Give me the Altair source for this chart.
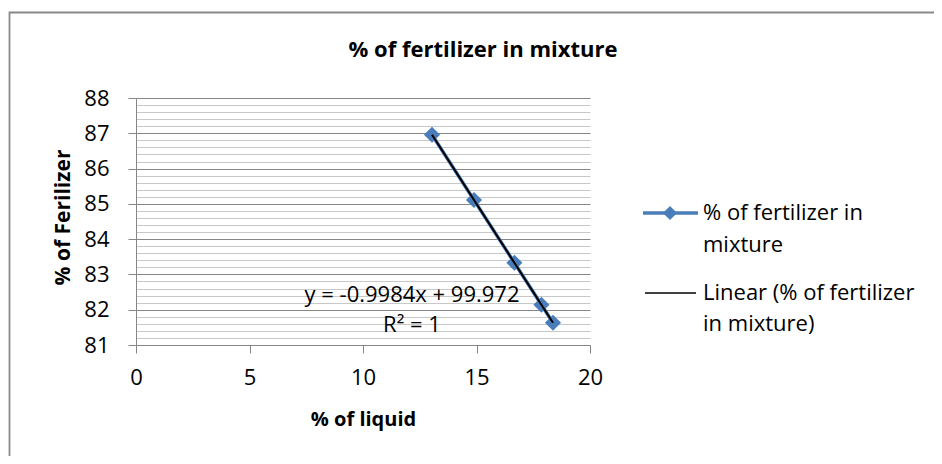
import altair as alt
import pandas as pd

# ---- data ----
liquid_pct = [13.04, 14.89, 16.67, 17.86, 18.37]
fert_pct = [86.96, 85.11, 83.33, 82.14, 81.63]
series_name = "% of fertilizer in mixture"
legend_labels = ["% of fertilizer in\nmixture", "Linear (% of fertilizer\nin mixture)"]
equation_text = "y = -0.9984x + 99.972\nR\u00b2 = 1"
x_ticks = [0, 5, 10, 15, 20]
y_ticks = [round(81 + i * 0.2, 1) for i in range(36)]

BLUE = "#4A7EBB"
FONT = "Open Sans"
IS_INT = "abs(datum.value - round(datum.value)) < 0.01"

df = pd.DataFrame({"liquid": liquid_pct, "fert": fert_pct})
one = pd.DataFrame({"k": [0]})

x_enc = alt.X(
    "liquid:Q",
    scale=alt.Scale(domain=[0, 20], nice=False, zero=False),
    axis=alt.Axis(
        values=x_ticks, grid=False, title="% of liquid",
        domainColor="#868686", tickColor="#868686", tickSize=8,
        labelFontSize=22, labelColor="black", labelPadding=14,
        labelFlush=False, labelOverlap=False,
        titleFontSize=20, titleFontWeight="bold", titleColor="black",
        titleBaseline="alphabetic", titleY=80,
    ),
)
y_enc = alt.Y(
    "fert:Q",
    scale=alt.Scale(domain=[81, 88], nice=False, zero=False),
    axis=alt.Axis(
        values=y_ticks, tickCount=100, title="% of Ferilizer",
        grid=True,
        gridColor={"condition": {"test": IS_INT, "value": "#868686"}, "value": "#c8c8c8"},
        tickOpacity={"condition": {"test": IS_INT, "value": 1}, "value": 0},
        labelExpr=IS_INT + " ? format(datum.value, 'd') : ''",
        labelOverlap=False, labelFlush=False,
        domainColor="#868686", tickColor="#868686", tickSize=8,
        labelFontSize=22, labelColor="black", labelPadding=19,
        titleFontSize=21, titleFontWeight="bold", titleColor="black",
        titleBaseline="alphabetic", titleX=-67, titleY=119,
    ),
)

base = alt.Chart(df)
series_line = base.mark_line(color=BLUE, strokeWidth=3.5).encode(x=x_enc, y=y_enc)
series_pts = base.mark_point(shape="diamond", filled=True, size=260, color=BLUE, opacity=1).encode(
    x="liquid:Q", y="fert:Q"
)
trend = base.transform_regression("liquid", "fert").mark_line(color="black", strokeWidth=2).encode(
    x="liquid:Q", y="fert:Q"
)

eq = alt.Chart(one).mark_text(
    text=equation_text, lineBreak="\n", lineHeight=30, align="center", baseline="middle",
    fontSize=22, color="black", font=FONT,
).encode(x=alt.value(276), y=alt.value(197))

# legend
leg1_line = alt.Chart(one).mark_rule(color=BLUE, strokeWidth=3.5).encode(
    x=alt.value(507), x2=alt.value(562), y=alt.value(115)
)
leg1_pt = alt.Chart(one).mark_point(shape="diamond", filled=True, size=200, color=BLUE, opacity=1).encode(
    x=alt.value(534), y=alt.value(115)
)
leg1_txt = alt.Chart(one).mark_text(
    text=legend_labels[0], lineBreak="\n", lineHeight=32, align="left", baseline="middle",
    fontSize=22, color="black", font=FONT,
).encode(x=alt.value(567), y=alt.value(115))
leg2_line = alt.Chart(one).mark_rule(color="black", strokeWidth=1.5).encode(
    x=alt.value(509), x2=alt.value(560), y=alt.value(195)
)
leg2_txt = alt.Chart(one).mark_text(
    text=legend_labels[1], lineBreak="\n", lineHeight=31, align="left", baseline="middle",
    fontSize=22, color="black", font=FONT,
).encode(x=alt.value(567), y=alt.value(195))

border = alt.Chart(one).mark_rect(fillOpacity=0, stroke="#898989", strokeWidth=1.8).encode(
    x=alt.value(-126.5), x2=alt.value(821), y=alt.value(-85.5), y2=alt.value(400)
)

chart = alt.layer(
    border, series_line, series_pts, trend, eq, leg1_line, leg1_pt, leg1_txt, leg2_line, leg2_txt
).properties(
    width=454,
    height=247,
    autosize=alt.AutoSizeParams(type="none"),
    padding={"left": 128, "top": 90, "right": 344, "bottom": 111},
    title=alt.TitleParams(
        series_name, fontSize=22, fontWeight="bold", font=FONT, color="black",
        anchor="middle", frame="group", baseline="alphabetic", offset=-67, dx=120,
    ),
).configure(font=FONT).configure_view(stroke=None)

chart.save("out.html", embed_options={"renderer": "svg", "actions": False})
